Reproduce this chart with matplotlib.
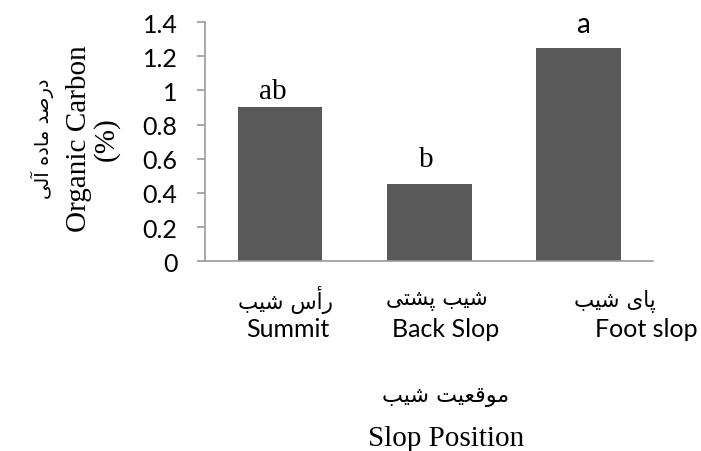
import matplotlib
matplotlib.use("Agg")
import matplotlib.pyplot as plt
from matplotlib.transforms import offset_copy

# ---- data ----
categories_en = ["Summit", "Back Slop", "Foot slop"]
categories_fa = ["رأس شیب", "شیب پشتی", "پای شیب"]
values = [0.90, 0.45, 1.25]
letters = ["ab", "b", "a"]
yticks = [0, 0.2, 0.4, 0.6, 0.8, 1.0, 1.2, 1.4]
ytick_labels = ["0", "0.2", "0.4", "0.6", "0.8", "1", "1.2", "1.4"]
ylabel_en = "Organic Carbon\n(%)"
ylabel_fa = "درصد ماده آلی"
xlabel_en = "Slop Position"
xlabel_fa = "موقعیت شیب"

# ---- minimal Arabic/Persian shaping (presentation forms) ----
FORMS = {  # isolated, final, initial, medial
    'ا': ('\uFE8D', '\uFE8E', None, None),
    'آ': ('\uFE81', '\uFE82', None, None),
    'أ': ('\uFE83', '\uFE84', None, None),
    'ب': ('\uFE8F', '\uFE90', '\uFE91', '\uFE92'),
    'ت': ('\uFE95', '\uFE96', '\uFE97', '\uFE98'),
    'د': ('\uFEA9', '\uFEAA', None, None),
    'ر': ('\uFEAD', '\uFEAE', None, None),
    'س': ('\uFEB1', '\uFEB2', '\uFEB3', '\uFEB4'),
    'ش': ('\uFEB5', '\uFEB6', '\uFEB7', '\uFEB8'),
    'ص': ('\uFEB9', '\uFEBA', '\uFEBB', '\uFEBC'),
    'ع': ('\uFEC9', '\uFECA', '\uFECB', '\uFECC'),
    'ق': ('\uFED5', '\uFED6', '\uFED7', '\uFED8'),
    'ل': ('\uFEDD', '\uFEDE', '\uFEDF', '\uFEE0'),
    'م': ('\uFEE1', '\uFEE2', '\uFEE3', '\uFEE4'),
    'ه': ('\uFEE9', '\uFEEA', '\uFEEB', '\uFEEC'),
    'و': ('\uFEED', '\uFEEE', None, None),
    'ی': ('\uFEEF', '\uFEF0', '\uFEF3', '\uFEF4'),
    'پ': ('\uFB56', '\uFB57', '\uFB58', '\uFB59'),
}


def shape(text):
    out = []
    n = len(text)
    for i, ch in enumerate(text):
        if ch not in FORMS:
            out.append(ch)
            continue
        f = FORMS[ch]
        prev = text[i - 1] if i > 0 else None
        nxt = text[i + 1] if i < n - 1 else None
        jp = prev in FORMS and FORMS[prev][2] is not None
        jn = f[2] is not None and nxt in FORMS
        if jp and jn:
            out.append(f[3])
        elif jp:
            out.append(f[1])
        elif jn:
            out.append(f[2])
        else:
            out.append(f[0])
    return "".join(out)[::-1]


SANS = "Lato"
SERIF = "Liberation Serif"
ARAB = "DejaVu Sans"
GRAY = "#9a9a9a"

fig = plt.figure(figsize=(7.01, 4.52), dpi=100)
ax = fig.add_axes([0.293, 0.420, 0.639, 0.529])

x = list(range(len(values)))
ax.bar(x, values, width=0.568, color="#595959", zorder=2)
ax.set_xlim(-0.5, 2.5)
ax.set_ylim(0, 1.4)
ax.set_yticks(yticks)
ax.set_yticklabels(ytick_labels, fontfamily=SANS, fontsize=18)
ax.set_xticks([])
for s in ["top", "right"]:
    ax.spines[s].set_visible(False)
for s in ["left", "bottom"]:
    ax.spines[s].set_color(GRAY)
    ax.spines[s].set_linewidth(1.2)
ax.tick_params(axis="y", length=6, width=1.2, color=GRAY, pad=14)

# significance letters
letter_fonts = [SERIF, SERIF, SANS]
letter_dx = [-0.05, -0.02, 0.03]
letter_dy = [7, 13, 11.5]
for i, (v, l) in enumerate(zip(values, letters)):
    tr = offset_copy(ax.transData, fig=fig, x=0, y=letter_dy[i], units="points")
    ax.text(i + letter_dx[i], v, l, transform=tr, ha="center", va="baseline",
            fontfamily=letter_fonts[i], fontsize=21 if i < 2 else 20)

# category labels
fa_dx = [0.035, 1.05, 2.24]
en_dx = [0.055, 1.11, 2.45]
bt = ax.get_xaxis_transform()
for i in range(len(categories_en)):
    ax.text(fa_dx[i], -0.16, shape(categories_fa[i]), transform=bt, ha="center",
            va="center", fontfamily=ARAB, fontsize=15.5, clip_on=False)
    ax.text(en_dx[i], -0.28, categories_en[i], transform=bt, ha="center",
            va="center", fontfamily=SANS, fontsize=18, clip_on=False)

# x-axis titles
ax.text(1.11, -0.565, shape(xlabel_fa), transform=bt, ha="center", va="center",
        fontfamily=ARAB, fontsize=16, clip_on=False)
ax.text(1.11, -0.74, xlabel_en, transform=bt, ha="center", va="center",
        fontfamily=SERIF, fontsize=21, clip_on=False)

# y-axis titles
fig.text(42 / 701, 1 - 139 / 452, shape(ylabel_fa), rotation=90, ha="center",
         va="center", fontfamily=ARAB, fontsize=14)
fig.text(93 / 701, 1 - 139 / 452, ylabel_en, rotation=90, ha="center",
         va="center", fontfamily=SERIF, fontsize=21, linespacing=1.05,
         multialignment="center")

fig.savefig("out.png", dpi=100)
